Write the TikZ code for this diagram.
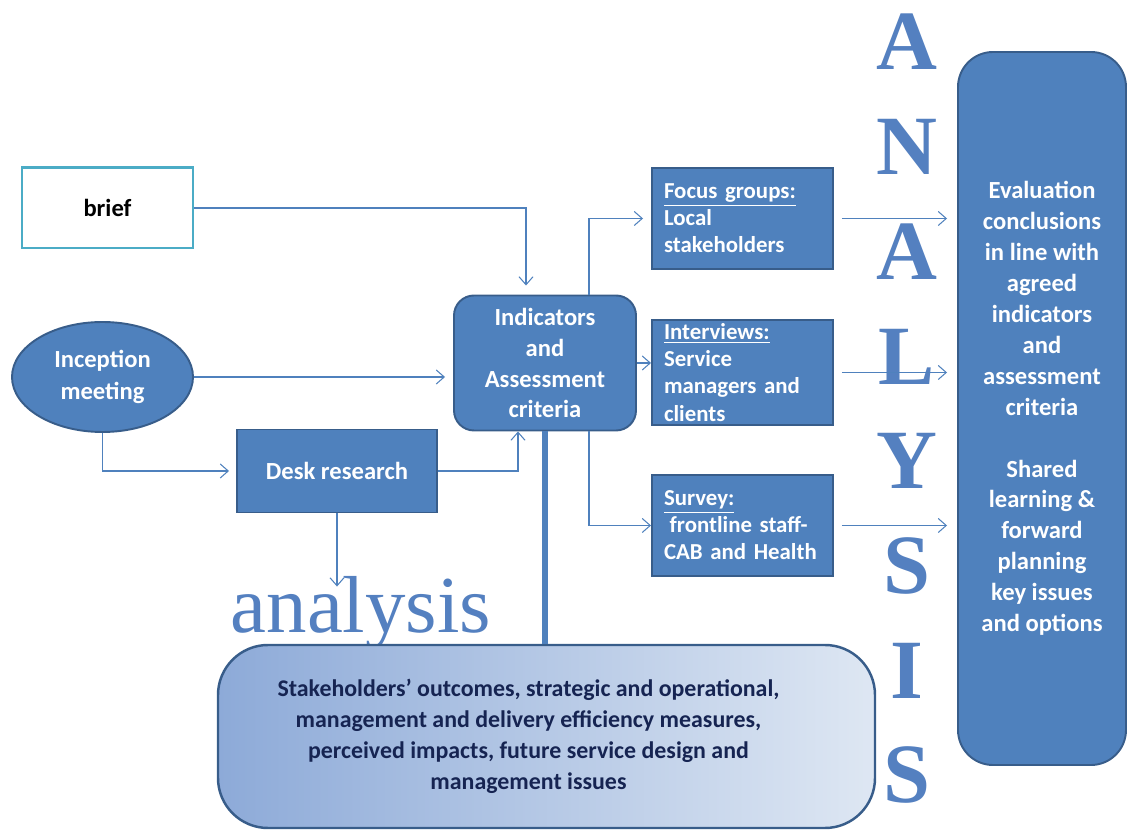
\documentclass[tikz,border=0pt]{standalone}
\usepackage{fontspec}
\setmainfont{Carlito}
\newfontfamily\serifbig{Liberation Serif}
\usetikzlibrary{arrows.meta, positioning, calc, shapes.geometric}
\definecolor{boxblue}{RGB}{79,129,189}
\definecolor{boxline}{RGB}{56,93,138}
\definecolor{briefln}{RGB}{75,172,198}
\definecolor{navy}{RGB}{22,36,82}
\definecolor{shadeL}{RGB}{141,170,216}
\definecolor{shadeR}{RGB}{222,231,243}
\definecolor{letblue}{RGB}{84,128,192}
\tikzset{
  blk/.style   = {draw=boxline, fill=boxblue, line width=1.1pt, text=white, align=center,
                  inner sep=2pt, font=\bfseries\fontsize{14}{17.6}\selectfont},
  crit/.style  = {blk, rounded corners=4mm},
  meth/.style  = {blk, minimum width=36.2mm, minimum height=20.2mm, text width=31.4mm,
                  align=left, font=\bfseries\fontsize{13}{15.4}\selectfont},
  oval/.style  = {blk, ellipse, minimum width=36.2mm, minimum height=22mm, inner sep=0pt,
                  font=\bfseries\fontsize{14}{18}\selectfont},
  fl/.style    = {-{Straight Barb[length=1.6mm, width=2.8mm]}, line width=0.6pt, draw=boxblue},
  trunk/.style = {line width=3.4pt, draw=boxblue},
  bigch/.style = {font=\serifbig\bfseries\fontsize{48}{48}\selectfont, text=letblue, inner sep=0pt, anchor=base},
}

\begin{document}
\begin{tikzpicture}[x=0.2mm, y=-0.2mm]
\useasboundingbox (0,0) rectangle (1128,833);

% inputs on the left
\node[draw=briefln, line width=1.7pt, fill=white, minimum width=34.2mm, minimum height=16mm,
      font=\bfseries\fontsize{14}{17}\selectfont] (brief) at (107.5,208) {brief};
\node[oval] (incep) at (102.5,377) {Inception\\meeting};
\node[blk, minimum width=40mm, minimum height=16.6mm] (desk) at (337,471) {Desk research};
\node[crit, minimum width=36.4mm, minimum height=27mm] (ind) at (545,363)
  {Indicators\\and\\Assessment\\criteria};

% fieldwork
\node[meth] (focus) at (742.5,218.5) {\underline{Focus groups:}\\Local\\stakeholders};
\node[meth, minimum height=20.6mm] (intv) at (742.5,372.5)
  {\underline{Interviews:}\\Service\\managers and\\clients};
\node[meth] (surv) at (742.5,525.5) {\underline{Survey:}\\\hspace*{0.25em}frontline staff-\\CAB and Health};

% conclusions column
\node[crit, rounded corners=7mm, minimum width=33.6mm, minimum height=142.6mm] (eval) at (1042,408.5)
  {Evaluation\\conclusions\\in line with\\agreed\\indicators\\and\\assessment\\criteria\\[17.6pt]Shared\\learning \&\\forward\\planning\\key issues\\and options};

% big lettering
\node[font=\serifbig\fontsize{46}{46}\selectfont, text=letblue, inner sep=0pt, anchor=base] (anl) at (361,633) {analysis};
\foreach \ch [count=\i from 0] in {A,N,A,L,Y,S,I,S}
  \node[bigch] (let\i) at (907,{70+104.7*\i}) {\ch};

% outcome measures (box, then its text a little left of centre)
\node[draw=boxline, line width=1.4pt, rounded corners=10mm, left color=shadeL, right color=shadeR,
      minimum width=131.4mm, minimum height=36.6mm] (outc) at (546.5,736.5) {};
\node[text=navy, align=center, font=\bfseries\fontsize{13.6}{17.6}\selectfont] (outtxt)
  at ([xshift=-3.6mm]outc.center)
  {Stakeholders’ outcomes, strategic and operational,\\management and delivery efficiency measures,\\perceived impacts, future service design and\\management issues};

% connectors
\draw[trunk] (ind.south) -- (outc.north -| ind.south);
\draw[fl, shorten >=1.8mm] (brief.east) -| ([xshift=-3.8mm]ind.north);
\draw[fl, shorten >=1.6mm] (incep.east) -- (incep.east -| ind.west);
\draw[fl, shorten >=1.4mm] (incep.south) |- (desk.west);
\draw[fl] (desk.east) -| ([xshift=-5.4mm]ind.south);
\draw[fl] (desk.south) -- ([yshift=-2mm]anl.north -| desk.south);
\draw[fl, shorten >=1.6mm] ([xshift=8.8mm]ind.north) |- (focus.west);
\draw[fl] (ind.east) -- (ind.east -| intv.west);
\draw[fl] ([xshift=8.8mm]ind.south) |- (surv.west);
\foreach \m in {focus,intv,surv}
  \draw[fl, shorten <=1.6mm, shorten >=2mm] (\m.east) -- (\m.east -| eval.west);
\end{tikzpicture}
\end{document}
